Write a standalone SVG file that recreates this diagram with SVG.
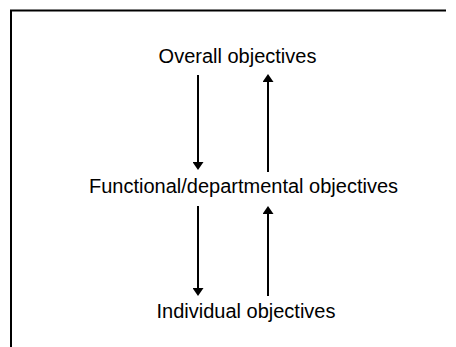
<svg xmlns="http://www.w3.org/2000/svg" width="456" height="347" viewBox="0 0 456 347">
  <style>
    .label { font-family: "Liberation Sans", Arial, sans-serif; font-size: 20px; fill: #000; text-anchor: middle; }
    .frame { fill: none; stroke: #000; stroke-width: 2; }
    .flow { fill: none; stroke: #000; stroke-width: 2; marker-end: url(#head); }
  </style>
  <defs>
    <marker id="head" viewBox="0 0 8 11" refX="0" refY="5.5" markerWidth="8" markerHeight="11" markerUnits="userSpaceOnUse" orient="auto">
      <path d="M0,0 L8,5.5 L0,11 Z" fill="#000"/>
    </marker>
  </defs>

  <!-- open frame: top and left edges -->
  <path class="frame" d="M11,347 V10.5 H446"/>

  <g id="overall">
    <text class="label" x="237.5" y="63">Overall objectives</text>
  </g>
  <g id="functional">
    <text class="label" x="243.5" y="193">Functional/departmental objectives</text>
  </g>
  <g id="individual">
    <text class="label" x="246" y="318">Individual objectives</text>
  </g>

  <g id="connectors">
    <line class="flow" x1="198" y1="75" x2="198" y2="162"/>
    <line class="flow" x1="268" y1="172" x2="268" y2="82"/>
    <line class="flow" x1="198" y1="206" x2="198" y2="288"/>
    <line class="flow" x1="268" y1="296" x2="268" y2="214"/>
  </g>
</svg>
